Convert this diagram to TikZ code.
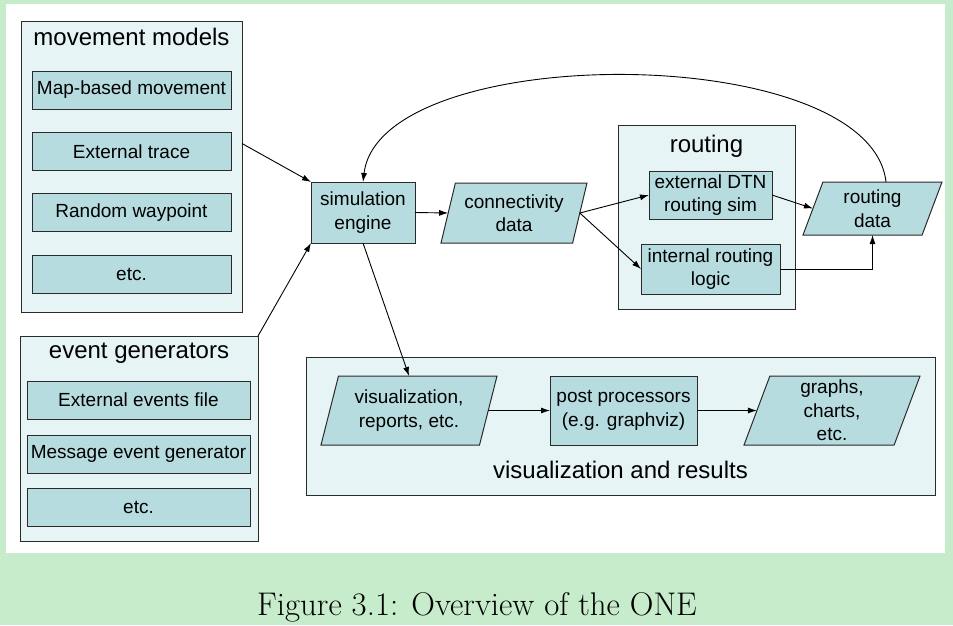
\documentclass[tikz,border=0pt]{standalone}
\usepackage{fontspec}
\newfontfamily\arialf{Liberation Sans}
\usetikzlibrary{shapes.geometric,arrows.meta}
\definecolor{bggreen}{HTML}{C6ECCB}
\definecolor{innerfill}{HTML}{B7DCE0}
\definecolor{outerfill}{HTML}{E7F4F6}
\definecolor{edgecol}{HTML}{2A2A2A}
\begin{document}
\begin{tikzpicture}[x=1pt,y=-1pt,
  every node/.style={font=\arialf\fontsize{19}{23.5}\selectfont, inner sep=0pt, outer sep=0pt},
  groupbox/.style={draw=edgecol, fill=outerfill, line width=1pt, rectangle},
  itembox/.style={draw=edgecol, fill=innerfill, line width=1pt, rectangle, align=center},
  databox/.style={draw=edgecol, fill=innerfill, line width=1pt, trapezium, trapezium stretches body, align=center},
  grouptitle/.style={font=\arialf\fontsize{24}{28}\selectfont},
  conn/.style={draw=black, line width=0.9pt, -{Latex[length=9pt,width=6pt]}}
]
% background
\fill[bggreen] (0,0) rectangle (953,625);
\fill[white] (6,4) rectangle (945,553);
\useasboundingbox (0,0) rectangle (953,625);

% movement models
\node[groupbox, minimum width=221pt, minimum height=291pt] (mm) at (131.5,166.5) {};
\node[grouptitle] (mmt) at (131.5,37) {movement models};
\node[itembox, minimum width=199pt, minimum height=38pt] (map) at (131.5,90) {Map-based movement};
\node[itembox, minimum width=199pt, minimum height=38pt] (ext) at (131.5,151.5) {External trace};
\node[itembox, minimum width=199pt, minimum height=38pt] (rwp) at (131.5,212.5) {Random waypoint};
\node[itembox, minimum width=199pt, minimum height=38pt] (mmetc) at (131.5,274) {etc.};

% event generators
\node[groupbox, minimum width=238pt, minimum height=205pt] (eg) at (139,438.5) {};
\node[grouptitle] (egt) at (139,353) {event generators};
\node[itembox, minimum width=223pt, minimum height=38pt] (eef) at (138.5,400) {External events file};
\node[itembox, minimum width=223pt, minimum height=38pt] (meg) at (138.5,454) {Message event generator};
\node[itembox, minimum width=223pt, minimum height=38pt] (egetc) at (138.5,507.5) {etc.};

% simulation engine
\node[itembox, minimum width=104pt, minimum height=61pt] (sim) at (363,212.5) {simulation\\engine};

% connectivity data
\node[databox, trapezium left angle=69, trapezium right angle=111, minimum width=146pt, minimum height=60pt] (conn) at (514,213) {connectivity\\data};

% routing
\node[groupbox, minimum width=177pt, minimum height=184pt] (rt) at (706.5,217) {};
\node[grouptitle] (rtt) at (706.5,146) {routing};
\node[itembox, minimum width=123pt, minimum height=48pt] (dtn) at (710.5,195) {external DTN\\routing sim};
\node[itembox, minimum width=139pt, minimum height=50pt] (intr) at (710.5,269) {internal routing\\logic};

% routing data
\node[databox, trapezium left angle=62, trapezium right angle=118, minimum width=139pt, minimum height=53pt] (rdata) at (872.5,208.5) {routing\\data};

% visualization and results
\node[groupbox, minimum width=629pt, minimum height=138pt] (vr) at (620.5,426) {};
\node[grouptitle] (vrt) at (620.5,470) {visualization and results};
\node[databox, trapezium left angle=67, trapezium right angle=113, minimum width=176pt, minimum height=69pt] (vis) at (409,410.5) {visualization,\\reports, etc.};
\node[itembox, minimum width=147pt, minimum height=69pt] (post) at (623.5,410.5) {post processors\\(e.g. graphviz)};
\node[databox, trapezium left angle=67, trapezium right angle=113, minimum width=176pt, minimum height=69pt] (graphs) at (832,410.5) {graphs,\\charts,\\etc.};

% caption
\node[font=\rmfamily\fontsize{32.8}{38}\selectfont] (cap) at (477,607) {Figure 3.1: Overview of the ONE};

% connectors
\draw[conn] ([yshift=23pt]mm.east) -- (sim.north west);
\draw[conn] (eg.north east) -- (sim.south west);
\draw[conn] (sim.east) -- (conn.west);
\draw[conn] (conn.east) -- (dtn.west);
\draw[conn] (conn.east) -- (intr.west);
\draw[conn] (dtn.east) -- (rdata.west);
\draw[conn] (intr.east) -| (rdata.south);
\draw[conn] ([xshift=13.5pt]rdata.north) .. controls (870,40) and (380,40) .. (sim.north);
\draw[conn] (sim.south) -- (vis.north);
\draw[conn] (vis.east) -- (post.west);
\draw[conn] (post.east) -- (graphs.west);
\end{tikzpicture}
\end{document}
